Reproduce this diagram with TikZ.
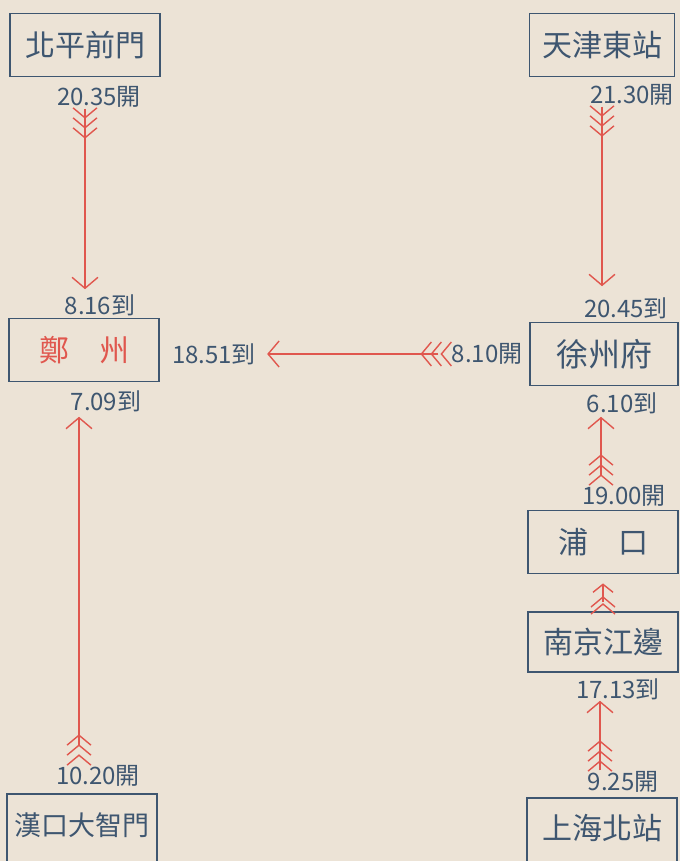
\documentclass[tikz,border=0pt]{standalone}
\usepackage{fontspec}
\newfontfamily\hand{Noto Sans CJK TC}
\usetikzlibrary{arrows.meta,decorations.markings}
\definecolor{paper}{HTML}{ECE3D6}
\definecolor{ink}{HTML}{3E5670}
\definecolor{rail}{HTML}{E0574E}
\tikzset{fletch/.tip={Straight Barb[length=10pt,width=24pt]}}

\begin{document}
\begin{tikzpicture}[x=1pt,y=-1pt]
        \tikzstyle{every node}=[font=\hand, text=ink];
        \tikzstyle{station}=[draw=ink, line width=1.8pt, minimum width=150pt, minimum height=63pt, font=\hand\fontsize{30}{30}\selectfont];
        \tikzstyle{time}=[inner sep=1pt, font=\hand\fontsize{24}{24}\selectfont];
        \tikzstyle{train}=[draw=rail, line width=1.4pt, -{Straight Barb[length=11pt,width=26pt]}, postaction={decorate},
            decoration={markings, mark=at position 10pt with {\arrow{fletch}}, mark=at position 20pt with {\arrow{fletch}}, mark=at position 30pt with {\arrow{fletch}}}];
        \tikzstyle{hop}=[draw=rail, line width=1.4pt, -{Straight Barb[length=8pt,width=20pt]}, postaction={decorate},
            decoration={markings, mark=at position 8pt with {\arrow{fletch}}, mark=at position 15pt with {\arrow{fletch}}}];
        \fill[paper] (0,0) rectangle (680,861);
        \useasboundingbox (0,0) rectangle (680,861);
        % stations
        \node[station] (bp) at (85,45) {北平前門};
        \node[station, minimum width=145pt] (tj) at (602,45) {天津東站};
        \node[station, text=rail] (zz) at (84,350) {鄭\quad 州};
        \node[station, minimum width=148pt, font=\hand\fontsize{32}{32}\selectfont] (xz) at (604,354) {徐州府};
        \node[station] (pk) at (603,542) {浦\quad 口};
        \node[station, minimum height=60pt] (nj) at (603,642) {南京江邊};
        \node[station, minimum height=74pt, text depth=14pt, font=\hand\fontsize{27}{27}\selectfont] (hk) at (82,831) {漢口大智門};
        \node[station, minimum height=70pt, text depth=13pt] (sh) at (602,833) {上海北站};
        % times
        \node[time] (t2035) at (99,97) {20.35開};
        \node[time] (t2130) at (632,95) {21.30開};
        \node[time] (t816) at (100,305) {8.16到};
        \node[time] (t2045) at (626,308) {20.45到};
        \node[time] (t1851) at (214,354) {18.51到};
        \node[time] (t810) at (487,354) {8.10開};
        \node[time] (t709) at (106,401) {7.09到};
        \node[time] (t610) at (622,403) {6.10到};
        \node[time] (t1900) at (624,496) {19.00開};
        \node[time] (t1713) at (618,689) {17.13到};
        \node[time] (t1020) at (98,776) {10.20開};
        \node[time] (t925) at (623,782) {9.25開};
        % trains
        \draw[train, shorten >=4pt] (t2035.south -| bp.center) -- (t816.north -| bp.center);
        \draw[train, shorten <=18pt, shorten >=4pt] ([xshift=-3pt]t1020.north -| hk.center) -- ([xshift=-3pt]t709.south -| hk.center);
        \draw[train, shorten <=12pt, shorten >=10pt] (t810.west) -- (t1851.east);
        \draw[train, shorten >=10pt] (t2130.south -| tj.center) -- (t2045.north -| tj.center);
        \draw[train, shorten <=8pt, shorten >=2pt] ([xshift=-3pt]t1900.north -| xz.center) -- ([xshift=-3pt]t610.south -| xz.center);
        \draw[hop, shorten <=9pt, shorten >=9pt] (nj.north) -- (pk.south);
        \draw[train] ([xshift=-2pt]t925.north -| sh.center) -- ([xshift=-2pt]t1713.south -| sh.center);
    \end{tikzpicture}
\end{document}
